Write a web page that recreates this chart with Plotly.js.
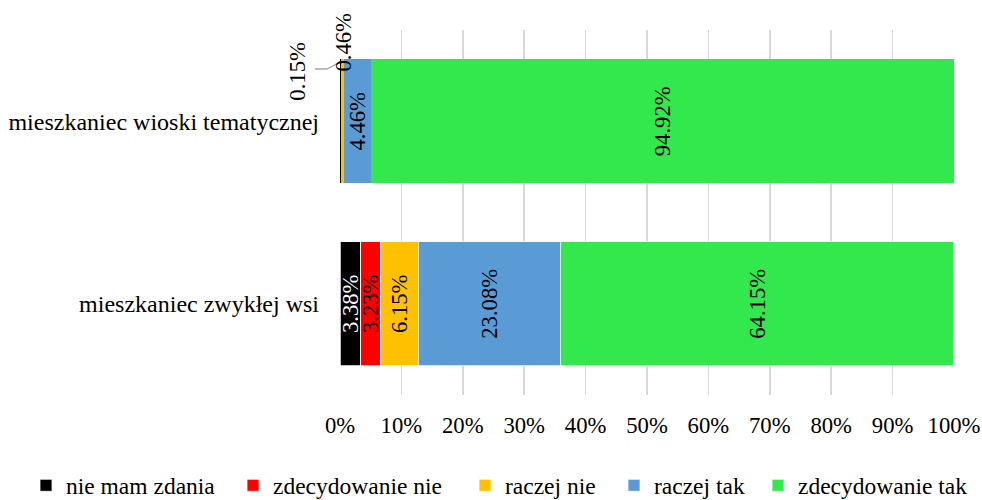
<!DOCTYPE html>
<html>
<head>
<meta charset="utf-8">
<script src="https://cdn.plot.ly/plotly-3.0.1.min.js"></script>
<style>html,body{margin:0;padding:0;background:#fff;}#chart{width:982px;height:500px;}</style>
</head>
<body>
<div id="chart"></div>
<script>
// Data
const categories = ['mieszkaniec zwykłej wsi', 'mieszkaniec wioski tematycznej'];
const seriesNames = ['nie mam zdania', 'zdecydowanie nie', 'raczej nie', 'raczej tak', 'zdecydowanie tak'];
const nieMamZdania     = [3.38, 0.15];
const zdecydowanieNie  = [3.23, 0.00];
const raczejNie        = [6.15, 0.46];
const raczejTak        = [23.08, 4.46];
const zdecydowanieTak  = [64.15, 94.92];
const tickValues = [0, 10, 20, 30, 40, 50, 60, 70, 80, 90, 100];
const tickLabels = ['0%', '10%', '20%', '30%', '40%', '50%', '60%', '70%', '80%', '90%', '100%'];

const allSeries = [nieMamZdania, zdecydowanieNie, raczejNie, raczejTak, zdecydowanieTak];
const colors = ['#000000', '#FF0000', '#FFC000', '#5B9BD5', '#33E84C'];
const textColors = ['#FFFFFF', '#000000', '#000000', '#000000', '#000000'];
const FONT = 'Liberation Serif';
const FS = 22.7;

function fmt(v) { return v.toFixed(2) + '%'; }
const legendNames = ['legend', 'legend2', 'legend3', 'legend4', 'legend5'];

const traces = allSeries.map((vals, i) => ({
  type: 'bar',
  orientation: 'h',
  name: seriesNames[i],
  y: categories,
  x: vals,
  width: 0.68,
  marker: { color: colors[i], line: { color: '#FFFFFF', width: [0.75, 0] } },
  text: vals.map(v => (v >= 1 ? fmt(v) : '')),
  textposition: 'inside',
  insidetextanchor: 'middle',
  textangle: -90,
  constraintext: 'none',
  textfont: { family: FONT, size: FS, color: textColors[i] },
  legend: legendNames[i],
  hoverinfo: 'x+name'
}));

const legendTextStart = [68, 275, 507, 656, 800];
const plotL = 340, plotW = 614;
const layout = {
  width: 982, height: 500,
  margin: { l: 340, r: 28, t: 30, b: 105, autoexpand: false },
  barmode: 'stack',
  paper_bgcolor: '#FFFFFF',
  plot_bgcolor: '#FFFFFF',
  font: { family: FONT, size: FS, color: '#000000' },
  uniformtext: { mode: 'show', minsize: FS },
  xaxis: {
    range: [0, 100],
    tickmode: 'array',
    tickvals: tickValues,
    ticktext: tickLabels,
    showgrid: true,
    gridcolor: '#D9D9D9',
    gridwidth: 1.5,
    zeroline: false,
    showline: false,
    ticks: '',
    ticklabelstandoff: 14,
    tickfont: { family: FONT, size: FS, color: '#000000' },
    automargin: false,
    fixedrange: true
  },
  yaxis: {
    type: 'category',
    categoryorder: 'array',
    categoryarray: categories,
    range: [-0.5, 1.5],
    showgrid: false,
    zeroline: false,
    showline: false,
    ticks: '',
    ticklabelstandoff: 20,
    tickfont: { family: FONT, size: 24, color: '#000000' },
    automargin: false,
    fixedrange: true
  },
  showlegend: true,
  annotations: [
    {
      xref: 'x', yref: 'y',
      x: nieMamZdania[1] / 2, y: categories[1],
      text: fmt(nieMamZdania[1]),
      showarrow: false, textangle: -90,
      xanchor: 'center', yanchor: 'middle',
      xshift: -43, yshift: 50,
      font: { family: FONT, size: FS, color: '#000000' }
    },
    {
      xref: 'x', yref: 'y',
      x: nieMamZdania[1] + zdecydowanieNie[1] + raczejNie[1] / 2, y: categories[1],
      text: fmt(raczejNie[1]),
      showarrow: false, textangle: -90,
      xanchor: 'center', yanchor: 'middle',
      xshift: 1, yshift: 79,
      font: { family: FONT, size: FS, color: '#000000' }
    }
  ],
  shapes: [
    {
      type: 'path', xref: 'paper', yref: 'paper',
      path: 'M -0.0407 0.893 L -0.0212 0.893 L 0 0.912',
      line: { color: '#A6A6A6', width: 1.5 }
    }
  ]
};
legendNames.forEach((ln, i) => {
  layout[ln] = {
    x: (legendTextStart[i] - 42 - plotL) / plotW,
    xanchor: 'left',
    y: -0.248, yanchor: 'middle',
    orientation: 'h',
    bgcolor: 'rgba(0,0,0,0)',
    borderwidth: 0,
    font: { family: FONT, size: 23.5, color: '#000000' },
    itemwidth: 30,
    itemclick: false, itemdoubleclick: false
  };
});

Plotly.newPlot('chart', traces, layout, { displayModeBar: false, staticPlot: true });
</script>
</body>
</html>
